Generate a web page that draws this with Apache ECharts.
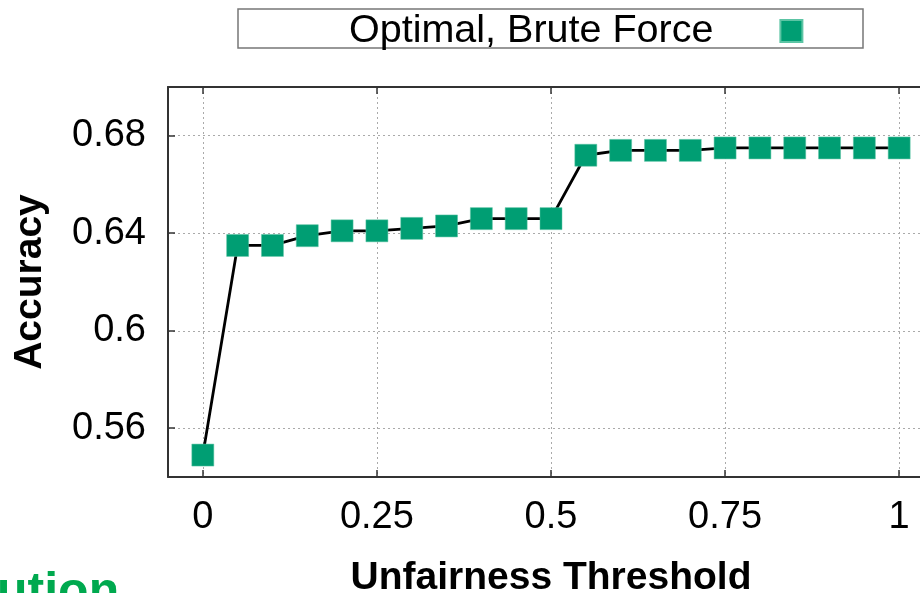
<!DOCTYPE html>
<html>
<head>
<meta charset="utf-8">
<script src="https://cdn.jsdelivr.net/npm/echarts@6/dist/echarts.min.js"></script>
<style>
  html, body { margin: 0; padding: 0; background: #fff; }
  #chart { width: 920px; height: 593px; }
</style>
</head>
<body>
<div id="chart"></div>
<script>
// unfairness threshold vs accuracy
const thresholds = [0, 0.05, 0.1, 0.15, 0.2, 0.25, 0.3, 0.35, 0.4, 0.45, 0.5,
  0.55, 0.6, 0.65, 0.7, 0.75, 0.8, 0.85, 0.9, 0.95, 1];
const accuracy = [0.549, 0.635, 0.635, 0.639, 0.641, 0.641, 0.642, 0.643, 0.646, 0.646, 0.646,
  0.672, 0.674, 0.674, 0.674, 0.675, 0.675, 0.675, 0.675, 0.675, 0.675];
const xTicks = [0, 0.25, 0.5, 0.75, 1];
const yTicks = [0.56, 0.6, 0.64, 0.68];
const seriesName = 'Optimal, Brute Force';

const green = '#009e73';
const font = 'Liberation Sans, Arial, sans-serif';

var chartDom = document.getElementById('chart');
var myChart = echarts.init(chartDom);

const gridLine = { show: true, lineStyle: { color: '#aaa', type: [2, 3], width: 1 } };

var option = {
  animation: false,
  textStyle: { fontFamily: font },
  legend: {
    data: [{ name: seriesName, icon: 'rect' }],
    left: 349,
    top: 11,
    padding: 0,
    align: 'right',
    itemWidth: 22,
    itemHeight: 22,
    textStyle: { fontSize: 39.5, color: '#000', padding: [0, 62, 0, 0] }
  },
  graphic: [
    {
      type: 'rect',
      shape: { x: 238, y: 9, width: 625, height: 39 },
      style: { fill: 'none', stroke: '#777', lineWidth: 1.5 },
      z: -1
    },
    {
      type: 'text',
      left: -3,
      top: 568,
      style: { text: 'ution', fill: '#00a94f', font: 'bold 50px ' + font }
    }
  ],
  grid: { left: 168, top: 87, right: -14, bottom: 116, outerBoundsMode: 'none', containLabel: false },
  xAxis: [
    {
      type: 'value', min: -0.05, max: 1.05,
      axisLine: { show: true, onZero: false, lineStyle: { color: '#333', width: 2 } },
      axisTick: { show: true, inside: true, length: 7, customValues: xTicks, lineStyle: { color: '#333', width: 1.5 } },
      axisLabel: { customValues: xTicks, fontSize: 38, color: '#000', margin: 22,
        formatter: v => String(v) },
      splitLine: gridLine,
      name: 'Unfairness Threshold', nameLocation: 'middle', nameGap: 82,
      nameTextStyle: { fontSize: 39, fontWeight: 'bold', color: '#000' }
    },
    {
      type: 'value', min: -0.05, max: 1.05, position: 'top',
      axisLine: { show: true, onZero: false, lineStyle: { color: '#333', width: 2 } },
      axisTick: { show: true, inside: true, length: 7, customValues: xTicks, lineStyle: { color: '#333', width: 1.5 } },
      axisLabel: { show: false },
      splitLine: { show: false }
    }
  ],
  yAxis: [
    {
      type: 'value', min: 0.54, max: 0.70,
      axisLine: { show: true, onZero: false, lineStyle: { color: '#333', width: 2 } },
      axisTick: { show: true, inside: true, length: 7, customValues: yTicks, lineStyle: { color: '#333', width: 1.5 } },
      axisLabel: { customValues: yTicks, fontSize: 38, color: '#000', margin: 22,
        formatter: v => String(v) },
      splitLine: gridLine,
      name: 'Accuracy', nameLocation: 'middle', nameGap: 118,
      nameTextStyle: { fontSize: 39, fontWeight: 'bold', color: '#000' }
    },
    {
      type: 'value', min: 0.54, max: 0.70, position: 'right',
      axisLine: { show: true, onZero: false, lineStyle: { color: '#333', width: 2 } },
      axisTick: { show: false },
      axisLabel: { show: false },
      splitLine: { show: false }
    }
  ],
  series: [
    {
      name: seriesName,
      type: 'line',
      data: thresholds.map((t, i) => [t, accuracy[i]]),
      symbol: 'rect',
      symbolSize: 22,
      lineStyle: { color: '#000', width: 2.8 },
      itemStyle: { color: green, borderColor: '#5cc4a4', borderWidth: 0.5 },
      z: 3
    }
  ]
};

myChart.setOption(option);
</script>
</body>
</html>
